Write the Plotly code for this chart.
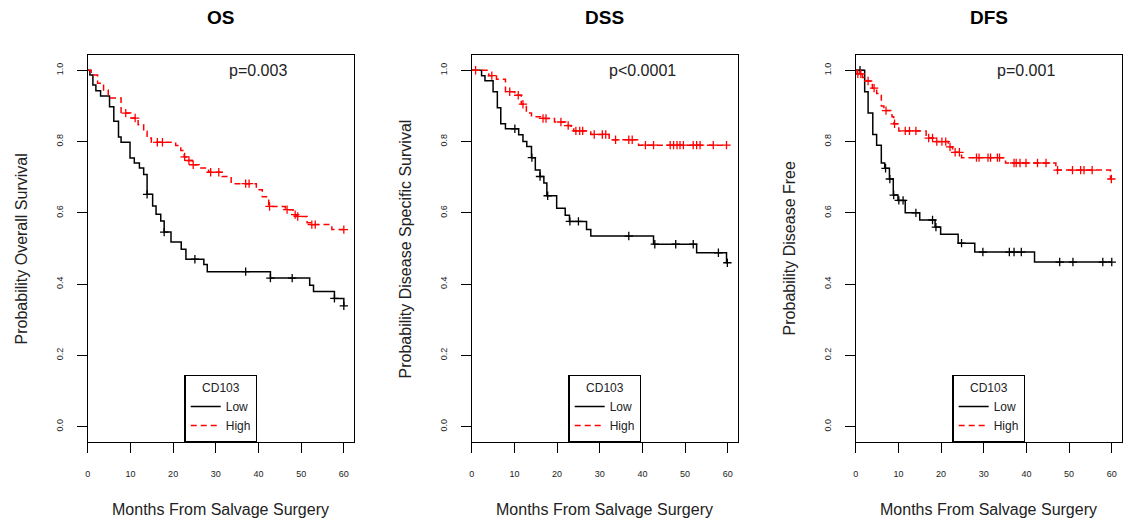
import bisect
import plotly.graph_objects as go

# ---------------- data ----------------
panel_titles = ["OS", "DSS", "DFS"]
y_titles = ["Probability Overall Survival", "Probability Disease Specific Survival", "Probability Disease Free"]
p_values = ["p=0.003", "p<0.0001", "p=0.001"]
group_names = ["Low", "High"]
legend_title = "CD103"
x_title = "Months From Salvage Surgery"
x_ticks = [0, 10, 20, 30, 40, 50, 60]
x_tick_labels = ["0", "10", "20", "30", "40", "50", "60"]
y_ticks = [0.0, 0.2, 0.4, 0.6, 0.8, 1.0]
y_tick_labels = ["0.0", "0.2", "0.4", "0.6", "0.8", "1.0"]

# OS
os_low_t = [0, 0.5, 1.2, 1.9, 3.0, 5.1, 6.1, 7.2, 7.8, 9.9, 10.9, 12.1, 13.1, 13.9, 15.2, 16.0, 17.1, 17.9,
            19.5, 21.9, 23.0, 27.2, 28.0, 42.8, 52.0, 52.9, 57.8, 60.0]
os_low_s = [1.0, 0.987, 0.959, 0.943, 0.928, 0.898, 0.857, 0.813, 0.798, 0.754, 0.740, 0.726, 0.708, 0.652,
            0.619, 0.596, 0.577, 0.546, 0.518, 0.498, 0.470, 0.455, 0.435, 0.417, 0.397, 0.379, 0.360, 0.339]
os_low_c = [13.9, 17.9, 25.1, 37.0, 42.8, 47.9, 57.8, 60.0]
os_high_t = [0, 0.8, 2.3, 3.7, 4.8, 7.8, 10.1, 11.8, 13.1, 13.9, 14.9, 20.6, 21.8, 22.6, 23.5, 24.5, 26.1, 28.3,
             31.5, 33.6, 39.5, 40.9, 42.4, 46.3, 48.1, 49.0, 51.4, 52.2, 57.2]
os_high_s = [1.0, 0.987, 0.964, 0.945, 0.922, 0.880, 0.866, 0.847, 0.829, 0.810, 0.798, 0.789, 0.775, 0.757,
             0.747, 0.735, 0.726, 0.714, 0.702, 0.682, 0.665, 0.645, 0.618, 0.609, 0.595, 0.590, 0.572, 0.567, 0.553]
os_high_c = [8.9, 11.1, 16.3, 17.5, 22.7, 23.7, 24.7, 28.8, 30.7, 37.0, 37.8, 42.6, 46.7, 48.6, 49.2, 52.5, 53.3, 60.0]

# DSS
dss_low_t = [0, 2.3, 3.1, 5.0, 6.0, 6.8, 7.9, 11.0, 12.0, 12.9, 14.0, 14.9, 16.0, 16.9, 17.6, 19.9, 21.9, 22.9,
             26.9, 27.9, 42.6, 52.7, 59.7]
dss_low_s = [1.0, 0.985, 0.971, 0.940, 0.895, 0.850, 0.836, 0.819, 0.800, 0.786, 0.755, 0.720, 0.702, 0.684,
             0.648, 0.613, 0.593, 0.576, 0.553, 0.535, 0.512, 0.488, 0.460]
dss_low_c = [10.1, 14.1, 16.0, 17.8, 23.0, 25.0, 36.8, 42.9, 47.8, 51.9, 57.8, 59.9]
dss_high_t = [0, 4.0, 5.8, 7.9, 10.1, 11.6, 12.8, 14.0, 16.1, 19.4, 22.0, 23.3, 23.9, 27.9, 32.2, 39.1]
dss_high_s = [1.0, 0.985, 0.975, 0.940, 0.930, 0.905, 0.880, 0.870, 0.865, 0.855, 0.845, 0.835, 0.830, 0.820,
              0.805, 0.790]
dss_high_c = [0.9, 4.7, 8.9, 10.9, 12.0, 16.7, 17.4, 20.9, 22.6, 24.4, 25.3, 26.0, 28.7, 30.6, 31.4, 33.7, 36.8,
              37.6, 40.7, 42.6, 46.5, 47.3, 48.1, 48.8, 49.6, 51.9, 52.7, 53.5, 56.6, 59.7]

# DFS
dfs_low_t = [0, 2.1, 2.9, 4.0, 4.9, 6.0, 6.8, 7.9, 8.8, 9.9, 11.6, 15.0, 18.6, 19.9, 24.0, 27.9, 41.9]
dfs_low_s = [1.0, 0.940, 0.880, 0.820, 0.790, 0.740, 0.725, 0.695, 0.650, 0.635, 0.600, 0.580, 0.560, 0.540,
             0.515, 0.490, 0.462]
dfs_low_c = [1.0, 7.0, 8.0, 8.9, 10.1, 11.1, 14.1, 18.0, 18.8, 24.8, 29.8, 36.0, 37.1, 38.8, 47.8, 50.9, 57.9, 60.0]
dfs_high_t = [0, 0.3, 1.6, 2.5, 3.9, 4.9, 6.0, 6.6, 8.5, 8.9, 10.1, 16.5, 18.6, 21.7, 22.7, 24.8, 35.1, 46.9, 59.7]
dfs_high_s = [1.0, 0.990, 0.980, 0.970, 0.950, 0.935, 0.900, 0.887, 0.870, 0.850, 0.830, 0.810, 0.800, 0.785,
              0.770, 0.755, 0.740, 0.720, 0.695]
dfs_high_c = [0.5, 1.2, 2.9, 4.3, 7.1, 9.1, 11.6, 12.6, 14.1, 17.1, 18.0, 19.0, 20.2, 21.1, 22.1, 23.3, 24.3, 28.3,
              28.9, 31.0, 31.6, 33.2, 33.7, 37.1, 37.6, 38.5, 39.9, 42.6, 44.6, 47.3, 50.8, 52.7, 53.5, 55.4, 59.9]

panels = [
    [(os_low_t, os_low_s, os_low_c), (os_high_t, os_high_s, os_high_c)],
    [(dss_low_t, dss_low_s, dss_low_c), (dss_high_t, dss_high_s, dss_high_c)],
    [(dfs_low_t, dfs_low_s, dfs_low_c), (dfs_high_t, dfs_high_s, dfs_high_c)],
]

# ---------------- style ----------------
W, H = 1125, 525
FONT = "Liberation Sans, Arial, Helvetica, sans-serif"
colors = ["#000000", "#ff0000"]
dashes = ["solid", "6px,4px"]
box_px = [(85, 352), (470, 737), (855, 1122)]
top_px, bot_px = 55, 442
y_dom = [1 - bot_px / H, 1 - top_px / H]


def step_value(t_list, s_list, t):
    i = bisect.bisect_right(t_list, t + 1e-9) - 1
    return s_list[max(i, 0)]


fig = go.Figure()
annotations = []
layout_axes = {}
for p in range(3):
    suffix = "" if p == 0 else str(p + 1)
    xa, ya = "x" + suffix, "y" + suffix
    leg = "legend" + suffix
    for g in range(2):
        t, s, c = panels[p][g]
        xs = list(t) + [max(max(t), max(c))]
        ys = list(s) + [s[-1]]
        fig.add_trace(go.Scatter(
            x=xs, y=ys, mode="lines", line=dict(shape="hv", color=colors[g], width=1.5, dash=dashes[g]),
            name=group_names[g], xaxis=xa, yaxis=ya, legend=leg, showlegend=True, hoverinfo="skip"))
        fig.add_trace(go.Scatter(
            x=c, y=[step_value(t, s, ci) for ci in c], mode="markers",
            marker=dict(symbol="cross-thin", size=6, line=dict(color=colors[g], width=1.3)),
            xaxis=xa, yaxis=ya, showlegend=False, hoverinfo="skip"))
    x0, x1 = box_px[p]
    common = dict(showline=True, linecolor="black", linewidth=1.3, mirror=True, ticks="outside",
                  ticklen=10, tickwidth=1.3, tickcolor="black", showgrid=False, zeroline=False,
                  tickfont=dict(family=FONT, size=9, color="#222"))
    layout_axes["xaxis" + suffix] = dict(domain=[x0 / W, x1 / W], range=[0, 62.4], anchor=ya,
                                         tickvals=x_ticks, ticktext=x_tick_labels, ticklabelstandoff=13, **common)
    layout_axes["yaxis" + suffix] = dict(domain=y_dom, range=[-0.043, 1.043], anchor=xa,
                                         tickvals=y_ticks, ticktext=y_tick_labels, tickangle=-90,
                                         ticklabelstandoff=10, **common)
    layout_axes[leg] = dict(
        x=(x0 + x1) / 2 / W, xanchor="center", y=y_dom[0], yanchor="bottom",
        bgcolor="white", bordercolor="black", borderwidth=1.3,
        font=dict(family=FONT, size=12, color="#222"), itemwidth=30, tracegroupgap=0,
        title=dict(text=legend_title, side="top center", font=dict(family=FONT, size=12, color="#222")))
    xc = (x0 + x1) / 2 / W
    annotations.append(dict(text="<b>%s</b>" % panel_titles[p], x=xc, y=1 - 18 / H, xref="paper", yref="paper",
                            showarrow=False, xanchor="center", yanchor="middle",
                            font=dict(family=FONT, size=19, color="black")))
    annotations.append(dict(text=x_title, x=xc, y=1 - 509 / H, xref="paper", yref="paper",
                            showarrow=False, xanchor="center", yanchor="middle",
                            font=dict(family=FONT, size=16, color="#222")))
    annotations.append(dict(text=y_titles[p], x=(x0 - 66) / W, y=(y_dom[0] + y_dom[1]) / 2, xref="paper",
                            yref="paper", showarrow=False, xanchor="center", yanchor="middle", textangle=-90,
                            font=dict(family=FONT, size=16, color="#222")))
    annotations.append(dict(text=p_values[p], x=40, y=1.0, xref=xa, yref=ya, showarrow=False,
                            xanchor="center", yanchor="middle", font=dict(family=FONT, size=16, color="#222")))

fig.update_layout(width=W, height=H, margin=dict(l=0, r=0, t=0, b=0), autosize=False,
                  paper_bgcolor="white", plot_bgcolor="white", annotations=annotations, **layout_axes)
fig.write_html("out.html", config={"displayModeBar": False},
               post_script="document.body.style.margin='0';")
